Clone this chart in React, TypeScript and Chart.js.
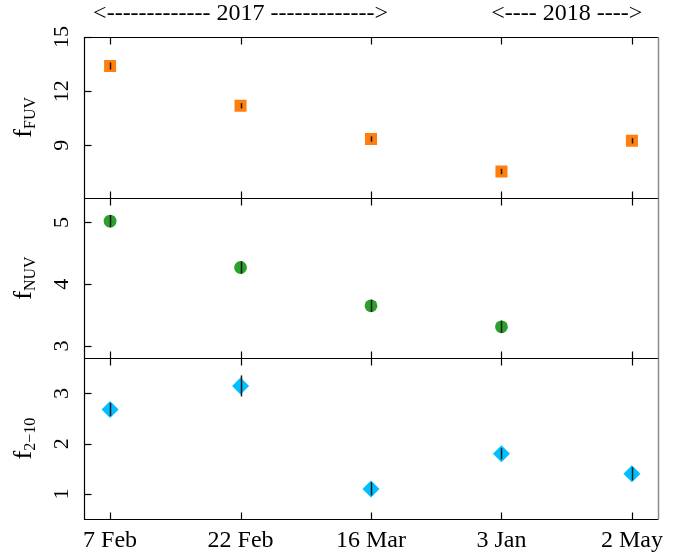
import React, { useEffect, useRef } from "react";
import { Chart, registerables } from "chart.js";

Chart.register(...registerables);

const categories = ["7 Feb", "22 Feb", "16 Mar", "3 Jan", "2 May"];
const fuvValues = [13.39, 11.19, 9.35, 7.55, 9.25];
const fuvErrors = [0.2, 0.15, 0.15, 0.15, 0.15];
const nuvValues: (number | null)[] = [5.02, 4.27, 3.65, 3.31, null];
const nuvErrors = [0.1, 0.1, 0.1, 0.1, 0.1];
const hardValues = [2.68, 3.15, 1.1, 1.8, 1.4];
const hardErrors = [0.13, 0.21, 0.13, 0.11, 0.13];
const fuvTicks = [9, 12, 15];
const nuvTicks = [3, 4, 5];
const hardTicks = [1, 2, 3];
const headerLabels = [
  { text: "<------------- 2017 ------------->", from: 0, to: 2 },
  { text: "<---- 2018 ---->", from: 3, to: 4 },
];

const FONT = '"Liberation Serif", "Times New Roman", serif';

const panels = [
  { scale: "yF", ticks: fuvTicks, title: "f", sub: "FUV", values: fuvValues, errors: fuvErrors },
  { scale: "yN", ticks: nuvTicks, title: "f", sub: "NUV", values: nuvValues, errors: nuvErrors },
  { scale: "yH", ticks: hardTicks, title: "f", sub: "2\u221210", values: hardValues, errors: hardErrors },
];

const toPoints = (vals: (number | null)[]) =>
  vals.map((v, i) => (v == null ? null : { x: i, y: v })).filter((p) => p !== null) as { x: number; y: number }[];

const decorPlugin = {
  id: "decor",
  afterDatasetsDraw(chart: any) {
    const ctx: CanvasRenderingContext2D = chart.ctx;
    const xs = chart.scales.x;
    ctx.save();
    ctx.strokeStyle = "#1a1a1a";
    ctx.lineWidth = 1.5;
    panels.forEach((p) => {
      const ys = chart.scales[p.scale];
      p.values.forEach((v, i) => {
        if (v == null) return;
        const px = Math.round(xs.getPixelForValue(i)) + 0.5;
        ctx.beginPath();
        ctx.moveTo(px, ys.getPixelForValue(v - p.errors[i]));
        ctx.lineTo(px, ys.getPixelForValue(v + p.errors[i]));
        ctx.stroke();
      });
    });
    ctx.restore();
  },
  afterDraw(chart: any) {
    const ctx: CanvasRenderingContext2D = chart.ctx;
    const xs = chart.scales.x;
    const area = chart.chartArea;
    const left = Math.round(area.left) + 0.5;
    const right = Math.round(area.right) + 0.5;
    ctx.save();
    panels.forEach((p) => {
      const ys = chart.scales[p.scale];
      const top = Math.round(ys.top) + 0.5;
      const bottom = Math.round(ys.bottom) + 0.5;
      ctx.strokeStyle = "#000";
      ctx.lineWidth = 1.2;
      ctx.beginPath();
      ctx.moveTo(right, top);
      ctx.lineTo(left, top);
      ctx.lineTo(left, bottom);
      ctx.lineTo(right, bottom);
      ctx.stroke();
      ctx.strokeStyle = "#8a8a8a";
      ctx.lineWidth = 1.5;
      ctx.beginPath();
      ctx.moveTo(right, top);
      ctx.lineTo(right, bottom);
      ctx.stroke();
      ctx.strokeStyle = "#000";
      ctx.lineWidth = 1.2;
      categories.forEach((_, i) => {
        const px = Math.round(xs.getPixelForValue(i)) + 0.5;
        ctx.beginPath();
        ctx.moveTo(px, top);
        ctx.lineTo(px, top + 7);
        ctx.moveTo(px, bottom);
        ctx.lineTo(px, bottom - 7);
        ctx.stroke();
      });
      ctx.fillStyle = "#000";
      ctx.font = `22px ${FONT}`;
      p.ticks.forEach((t) => {
        const py = Math.round(ys.getPixelForValue(t)) + 0.5;
        ctx.beginPath();
        ctx.moveTo(left, py);
        ctx.lineTo(left + 7, py);
        ctx.stroke();
        ctx.save();
        ctx.translate(68, ys.getPixelForValue(t));
        ctx.rotate(-Math.PI / 2);
        ctx.textAlign = "center";
        ctx.textBaseline = "alphabetic";
        ctx.fillText(String(t), 0, 0);
        ctx.restore();
      });
      const cy = (ys.top + ys.bottom) / 2;
      ctx.save();
      ctx.translate(31, cy);
      ctx.rotate(-Math.PI / 2);
      ctx.textBaseline = "alphabetic";
      ctx.textAlign = "left";
      ctx.font = `26px ${FONT}`;
      const w1 = ctx.measureText(p.title).width;
      ctx.font = `16px ${FONT}`;
      const w2 = ctx.measureText(p.sub).width;
      const start = -(w1 + w2) / 2;
      ctx.font = `26px ${FONT}`;
      ctx.fillText(p.title, start, 0);
      ctx.font = `16px ${FONT}`;
      ctx.fillText(p.sub, start + w1, 4);
      ctx.restore();
    });
    ctx.fillStyle = "#000";
    ctx.font = `24px ${FONT}`;
    ctx.textAlign = "center";
    ctx.textBaseline = "alphabetic";
    categories.forEach((c, i) => {
      ctx.fillText(c, xs.getPixelForValue(i), 547);
    });
    ctx.textBaseline = "middle";
    headerLabels.forEach((h) => {
      const cx = (xs.getPixelForValue(h.from) + xs.getPixelForValue(h.to)) / 2;
      ctx.fillText(h.text, cx, 14);
    });
    ctx.restore();
  },
};

const hiddenY = (min: number, max: number) => ({
  type: "linear" as const,
  position: "left" as const,
  stack: "panels",
  stackWeight: 1,
  min,
  max,
  grid: { display: false },
  border: { display: false },
  ticks: { display: false },
});

export default function App() {
  const canvasRef = useRef<HTMLCanvasElement | null>(null);

  useEffect(() => {
    if (!canvasRef.current) return;
    const chart = new Chart(canvasRef.current, {
      type: "scatter",
      data: {
        datasets: [
          {
            label: "FUV",
            data: toPoints(fuvValues),
            yAxisID: "yF",
            pointStyle: "rect",
            pointRadius: 8.5,
            pointBackgroundColor: "#ff7f0e",
            pointBorderWidth: 0,
            showLine: false,
          },
          {
            label: "NUV",
            data: toPoints(nuvValues),
            yAxisID: "yN",
            pointStyle: "circle",
            pointRadius: 6.4,
            pointBackgroundColor: "#2ca02c",
            pointBorderWidth: 0,
            showLine: false,
          },
          {
            label: "2-10",
            data: toPoints(hardValues),
            yAxisID: "yH",
            pointStyle: "rectRot",
            pointRadius: 8.5,
            pointBackgroundColor: "#00bfff",
            pointBorderWidth: 0,
            showLine: false,
          },
        ] as any,
      },
      options: {
        animation: false,
        responsive: false,
        maintainAspectRatio: false,
        layout: { padding: { left: 76, right: 35, top: 37, bottom: 28 } },
        plugins: { legend: { display: false }, tooltip: { enabled: false } },
        scales: {
          x: {
            type: "linear",
            min: -0.2,
            max: 4.2,
            grid: { display: false },
            border: { display: false },
            ticks: { display: false },
            afterBuildTicks: (s: any) => {
              s.ticks = categories.map((_, i) => ({ value: i }));
            },
          },
          yH: hiddenY(0.5, 3.7),
          yN: hiddenY(2.8, 5.4),
          yF: hiddenY(6.1, 15),
        } as any,
      },
      plugins: [decorPlugin],
    });
    return () => chart.destroy();
  }, []);

  return (
    <div style={{ position: "fixed", left: 0, top: 0, width: 693, height: 555, background: "#fff" }}>
      <canvas ref={canvasRef} width={693} height={555} style={{ display: "block", width: 693, height: 555 }} />
    </div>
  );
}
